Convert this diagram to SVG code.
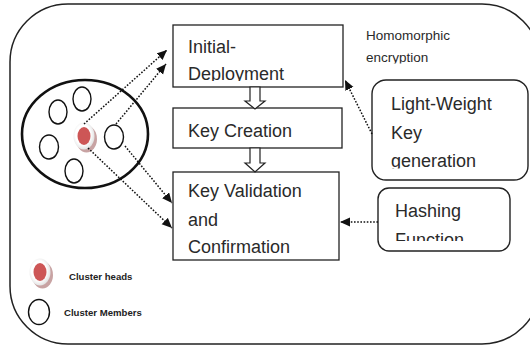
<svg xmlns="http://www.w3.org/2000/svg" width="530" height="346" viewBox="0 0 530 346">
<style>
.box{fill:#fff;stroke:#222;stroke-width:1.3}
.rbox{fill:#fff;stroke:#222;stroke-width:1.4}
.t{font-family:"Liberation Sans",Arial,sans-serif;font-size:18px;fill:#2a2a2a}
.s{font-family:"Liberation Sans",Arial,sans-serif;font-size:13.5px;fill:#2a2a2a}
.lg{font-family:"Liberation Sans",Arial,sans-serif;font-size:9.6px;font-weight:bold;fill:#222}
.dot{fill:none;stroke:#111;stroke-width:1.5;stroke-dasharray:1.6 1.6}
.mem{fill:#fff;stroke:#111;stroke-width:1.4}
.blk{fill:#fff;stroke:#222;stroke-width:1.2}
</style>
<defs>
<marker id="ah" markerUnits="userSpaceOnUse" markerWidth="11" markerHeight="10" refX="10" refY="4.5" orient="auto">
<path d="M0,0 L10,4.5 L0,9 z" fill="#111"/>
</marker>
<radialGradient id="wg" cx="0.45" cy="0.45" r="0.6">
<stop offset="0.6" stop-color="#ffffff"/>
<stop offset="1" stop-color="#dcdcdc"/>
</radialGradient>
<g id="head">
<ellipse cx="2.5" cy="3" rx="10.5" ry="13.5" fill="#c8a3a3"/>
<ellipse cx="0" cy="0" rx="10.5" ry="13.5" fill="url(#wg)"/>
<ellipse cx="0" cy="0" rx="6.5" ry="9" fill="#cd5656"/>
</g>
<clipPath id="c1"><rect x="173" y="25" width="170" height="56"/></clipPath>
<clipPath id="c2"><rect x="350" y="20" width="120" height="43.5"/></clipPath>
<clipPath id="c3"><rect x="372" y="80" width="156" height="88.5"/></clipPath>
<clipPath id="c4"><rect x="378" y="188" width="132" height="53"/></clipPath>
</defs>

<g id="frame">
<rect x="10" y="4" width="530" height="340" rx="58" ry="58" fill="#fff" stroke="#222" stroke-width="1.5"/>
</g>

<g id="cluster">
<ellipse cx="85" cy="134" rx="63" ry="54" fill="#fff" stroke="#111" stroke-width="2.6"/>
<ellipse class="mem" cx="82" cy="99" rx="9" ry="12"/>
<ellipse class="mem" cx="58" cy="112" rx="9" ry="12"/>
<ellipse class="mem" cx="49" cy="147" rx="9.5" ry="12"/>
<ellipse class="mem" cx="74" cy="171" rx="9" ry="12"/>
<ellipse class="mem" cx="114" cy="137" rx="9.5" ry="12"/>
<use href="#head" x="84" y="136"/>
</g>

<g id="initial-deployment">
<rect class="box" x="173" y="25" width="170" height="62"/>
<g clip-path="url(#c1)">
<text class="t" x="188" y="53">Initial-</text>
<text class="t" x="188" y="80">Deployment</text>
</g>
</g>

<g id="key-creation">
<rect class="box" x="173" y="108" width="169" height="40"/>
<text class="t" x="188" y="137">Key Creation</text>
</g>

<g id="key-validation">
<rect class="box" x="173" y="172" width="166" height="88"/>
<text class="t" x="188" y="197">Key Validation</text>
<text class="t" x="188" y="226">and</text>
<text class="t" x="188" y="253">Confirmation</text>
</g>

<g id="homomorphic">
<g clip-path="url(#c2)">
<text class="s" x="366" y="40">Homomorphic</text>
<text class="s" x="366" y="62">encryption</text>
</g>
</g>

<g id="light-weight">
<rect class="rbox" x="372" y="80" width="156" height="100" rx="14"/>
<g clip-path="url(#c3)">
<text class="t" x="391" y="110">Light-Weight</text>
<text class="t" x="391" y="139">Key</text>
<text class="t" x="391" y="167">generation</text>
</g>
</g>

<g id="hashing">
<rect class="rbox" x="378" y="188" width="132" height="63" rx="11"/>
<g clip-path="url(#c4)">
<text class="t" x="395" y="217">Hashing</text>
<text class="t" x="395" y="246">Function</text>
</g>
</g>

<g id="legend">
<use href="#head" x="40" y="272"/>
<text class="lg" x="69" y="280">Cluster heads</text>
<ellipse class="mem" cx="39" cy="312" rx="10.5" ry="12.5"/>
<text class="lg" x="64" y="316">Cluster Members</text>
</g>

<g id="connectors">
<path class="blk" d="M250,87 V101 H245 L255,109 L265,101 H260 V87 Z"/>
<path class="blk" d="M250,148 V163 H245 L255,172 L265,163 H260 V148 Z"/>
<line class="dot" x1="84" y1="124" x2="167" y2="50" marker-end="url(#ah)"/>
<line class="dot" x1="116" y1="124" x2="166" y2="64" marker-end="url(#ah)"/>
<line class="dot" x1="125" y1="146" x2="172" y2="203" marker-end="url(#ah)"/>
<line class="dot" x1="88" y1="148" x2="172" y2="228" marker-end="url(#ah)"/>
<line class="dot" x1="372" y1="134" x2="345" y2="80" marker-end="url(#ah)"/>
<line class="dot" x1="378" y1="222" x2="340" y2="222" marker-end="url(#ah)"/>
</g>
</svg>
